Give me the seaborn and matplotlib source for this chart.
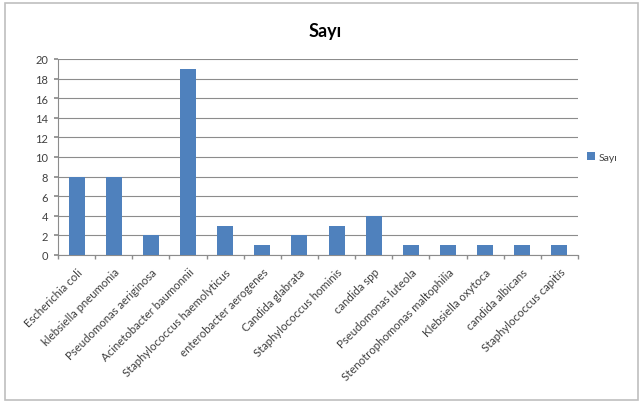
import matplotlib
matplotlib.use("Agg")
import matplotlib.pyplot as plt
import seaborn as sns
import pandas as pd
from matplotlib.patches import Rectangle

categories = [
    "Escherichia coli", "klebsiella pneumonia", "Pseudomonas aeriginosa",
    "Acinetobacter baumonnii", "Staphylococcus haemolyticus", "enterobacter aerogenes",
    "Candida glabrata", "Staphylococcus hominis", "candida spp", "Pseudomonas luteola",
    "Stenotrophomonas maltophilia", "Klebsiella oxytoca", "candida albicans",
    "Staphylococcus capitis",
]
counts = [8, 8, 2, 19, 3, 1, 2, 3, 4, 1, 1, 1, 1, 1]
series_name = "Sayı"
yticks = list(range(0, 21, 2))

df = pd.DataFrame({"cat": categories, "val": counts})

sns.set_theme(style="white")
plt.rcParams["font.family"] = ["Lato", "DejaVu Sans"]

fig = plt.figure(figsize=(6.43, 4.06), dpi=100)
fig.patches.append(Rectangle((0.008, 0.012), 0.984, 0.978, transform=fig.transFigure,
                             fill=False, edgecolor="#bfbfbf", linewidth=1.2))
ax = fig.add_axes([58 / 643, 1 - 256 / 406, (578 - 58) / 643, (256 - 60) / 406])

bar_color = "#4F81BD"
sns.barplot(data=df, x="cat", y="val", color=bar_color, width=0.43, ax=ax,
            saturation=1, label=series_name, linewidth=0, zorder=3)

ax.set_ylim(0, 20)
ax.set_xlim(-0.5, len(categories) - 0.5)
ax.set_yticks(yticks)
ax.set_yticklabels([str(t) for t in yticks], fontsize=8, color="#404040")
ax.yaxis.grid(True, color="#8c8c8c", linewidth=0.8, zorder=0)
ax.set_axisbelow(True)
for s in ["top", "right"]:
    ax.spines[s].set_visible(False)
for s in ["left", "bottom"]:
    ax.spines[s].set_color("#8c8c8c")
    ax.spines[s].set_linewidth(0.8)
ax.tick_params(axis="y", length=3, color="#8c8c8c", left=True, pad=4)
ax.set_xticks([i - 0.5 for i in range(len(categories) + 1)], minor=True)
ax.tick_params(axis="x", which="minor", length=3, color="#8c8c8c", bottom=True)
ax.tick_params(axis="x", which="major", length=0, pad=8)
ax.set_xticklabels(categories, rotation=45, ha="right", rotation_mode="anchor",
                   fontsize=8.2, color="#404040")
ax.set_xlabel("")
ax.set_ylabel("")

fig.text(325 / 643, 1 - 31 / 406, series_name, ha="center", va="center",
         fontsize=13, fontweight="bold", color="#000000")

leg = ax.legend(loc="center left", bbox_to_anchor=(1.0, 0.5), frameon=False,
                fontsize=7.5, handlelength=0.7, handleheight=0.7, handletextpad=0.4)
for t in leg.get_texts():
    t.set_color("#404040")

fig.savefig("out.png", dpi=100)
